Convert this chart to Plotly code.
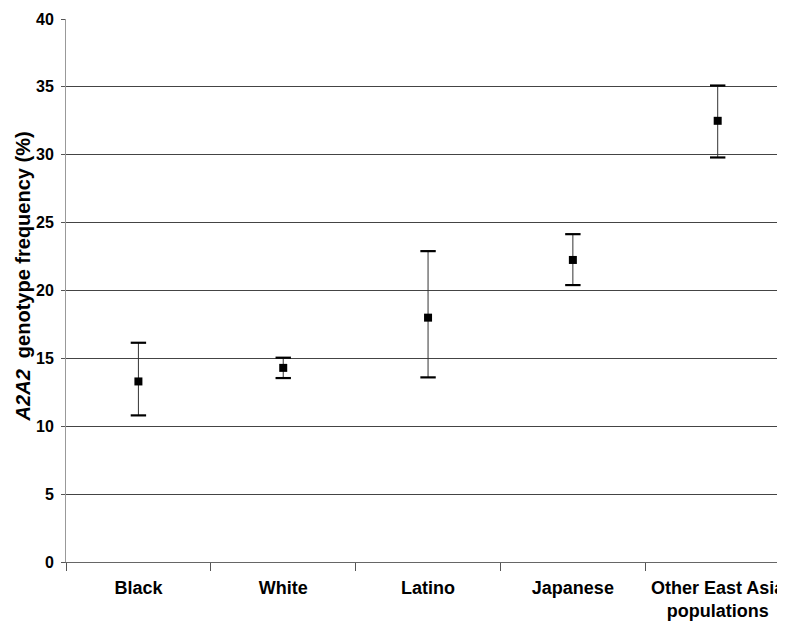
import plotly.graph_objects as go

categories = ["Black", "White", "Latino", "Japanese", "Other East Asia<br>populations"]
freq = [13.3, 14.3, 18.0, 22.25, 32.5]
upper = [16.15, 15.05, 22.9, 24.15, 35.1]
lower = [10.8, 13.55, 13.6, 20.4, 29.8]

err_plus = [u - f for u, f in zip(upper, freq)]
err_minus = [f - l for f, l in zip(freq, lower)]

fig = go.Figure()
fig.add_trace(go.Scatter(
    x=categories, y=freq, mode="markers",
    marker=dict(symbol="square", size=8, color="black"),
    error_y=dict(type="data", symmetric=False, array=err_plus, arrayminus=err_minus,
                 color="#333", thickness=1, width=0),
    showlegend=False,
))
# error-bar caps (thicker than the stems)
fig.add_trace(go.Scatter(
    x=categories + categories, y=upper + lower, mode="markers",
    marker=dict(symbol="line-ew", size=11, line=dict(color="black", width=2.2)),
    showlegend=False, hoverinfo="skip",
))

fig.update_layout(
    width=785, height=621,
    margin=dict(l=58, r=0, t=11, b=67),
    paper_bgcolor="white", plot_bgcolor="white",
    font=dict(family="Liberation Sans, Arial, sans-serif", color="black"),
    xaxis=dict(
        type="category", range=[-0.5, 4.52], automargin=False,
        showline=True, linecolor="#666", linewidth=1,
        ticks="outside", tickson="boundaries", ticklen=8, tickcolor="#555",
        tickfont=dict(size=18), tickangle=0, ticklabelstandoff=9,
        tickvals=categories, ticktext=["<b>" + c + "</b>" for c in categories],
        showgrid=False,
    ),
    yaxis=dict(
        range=[0, 40], dtick=5, automargin=False,
        showline=True, linecolor="#999", linewidth=1,
        ticks="outside", ticklen=4, tickcolor="#555",
        showgrid=True, gridcolor="#444", gridwidth=1,
        tickfont=dict(size=16), ticklabelstandoff=4,
        tickprefix="<b>", ticksuffix="</b>",
        zeroline=False,
    ),
    annotations=[dict(
        text="<b><i>A2A2</i>  genotype frequency (%)</b>",
        xref="paper", yref="paper", x=0, y=0.526, xanchor="center", yanchor="middle",
        xshift=-43, textangle=-90, showarrow=False, font=dict(size=20),
    )],
)

fig.write_html("out.html")
